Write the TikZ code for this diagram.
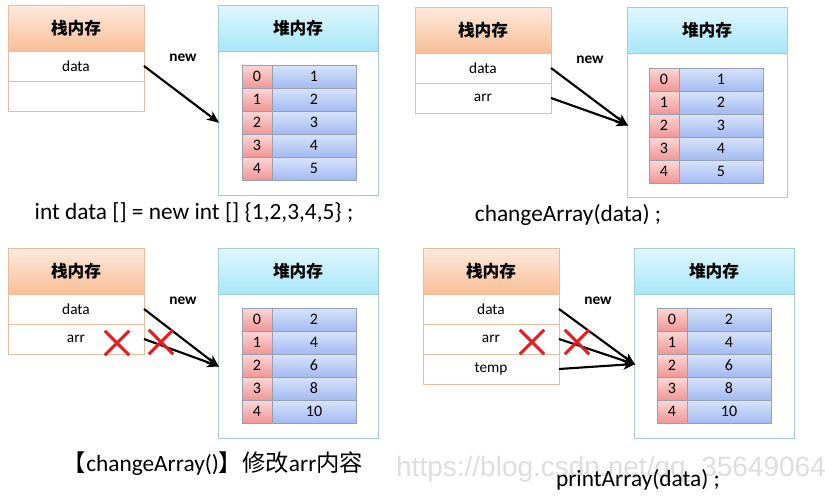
\documentclass[tikz,border=0pt]{standalone}
\usepackage{fontspec}
\setmainfont{Carlito}
\newfontfamily\cjk{Noto Sans CJK SC}
\newfontfamily\wmfont{Liberation Sans}
\usetikzlibrary{positioning,arrows.meta,shapes.misc}

\definecolor{stackline}{RGB}{236,186,156}
\definecolor{stacktop}{RGB}{253,234,222}
\definecolor{stackbot}{RGB}{248,190,150}
\definecolor{heapline}{RGB}{160,204,222}
\definecolor{heaptop}{RGB}{224,247,253}
\definecolor{heapbot}{RGB}{168,230,248}
\definecolor{idxtop}{RGB}{252,216,214}
\definecolor{idxbot}{RGB}{240,150,150}
\definecolor{valtop}{RGB}{216,228,252}
\definecolor{valbot}{RGB}{162,186,240}
\definecolor{cellline}{RGB}{150,160,178}
\definecolor{xred}{RGB}{232,28,28}
\definecolor{wmgray}{RGB}{222,222,222}

\tikzset{
  stackhead/.style={draw=stackline, top color=stacktop, bottom color=stackbot, minimum width=102pt, minimum height=34.5pt, inner sep=0pt, outer sep=0pt, anchor=north west, font=\cjk\bfseries\fontsize{12.5}{14}\selectfont},
  stackrow/.style={draw=stackline, fill=white, minimum width=102pt, minimum height=22.5pt, inner sep=0pt, outer sep=0pt, font=\fontsize{11.5}{13}\selectfont},
  heapbody/.style={draw=heapline, fill=white, minimum width=120pt, minimum height=142.5pt, inner sep=0pt, outer sep=0pt, anchor=north west},
  heaphead/.style={draw=heapline, top color=heaptop, bottom color=heapbot, minimum width=120pt, minimum height=34.5pt, inner sep=0pt, outer sep=0pt, anchor=north west, font=\cjk\bfseries\fontsize{12.5}{14}\selectfont},
  idxcell/.style={draw=cellline, top color=idxtop, bottom color=idxbot, minimum width=22.5pt, minimum height=17.25pt, inner sep=0pt, outer sep=0pt, anchor=north west, font=\fontsize{12}{13}\selectfont},
  valcell/.style={draw=cellline, top color=valtop, bottom color=valbot, minimum width=63pt, minimum height=17.25pt, inner sep=0pt, outer sep=0pt, font=\fontsize{12}{13}\selectfont},
  ptr/.style={-{Stealth[length=9pt,width=7.5pt,inset=2.5pt]}, line width=1.6pt, shorten >=-1pt},
  newlabel/.style={font=\bfseries\fontsize{11.5}{13}\selectfont},
  crossmark/.style={cross out, draw=xred, line width=2.2pt, minimum size=16pt, inner sep=0pt},
  caption/.style={font=\fontsize{17.5}{20}\selectfont, inner sep=0pt}
}

\begin{document}
\begin{tikzpicture}[x=0.75pt,y=0.75pt,yscale=-1,xscale=1]
\fill[white] (0,0) rectangle (825,496);
\useasboundingbox (0,0) rectangle (825,496);

%% Panel 1: int data [] = new int [] {1,2,3,4,5}
% Stack
\node[stackhead] (shA) at (8,5) {栈内存};
\node[stackrow, below=0pt of shA] (dataA) {data};
\node[stackrow, below=0pt of dataA] (emptyA) {};
% Heap
\node[heapbody] (heapA) at (218,5) {};
\node[heaphead] (hhA) at (218,5) {堆内存};
\foreach \i/\v in {0/1,1/2,2/3,3/4,4/5}{
  \node[idxcell] (iA\i) at (242,{65+\i*23}) {\i};
  \node[valcell, right=0pt of iA\i] (vA\i) {\v};
}
% Pointer
\coordinate (tipA) at (218,122);
\node[newlabel] (newA) at (183,58) {new};
\draw[ptr] (dataA.east) -- (tipA);
% Text Node
\node[caption] (capA) at (194,213) {int data [] = new int [] \{1,2,3,4,5\} ;};

%% Panel 2: changeArray(data)
% Stack
\node[stackhead] (shB) at (415,7) {栈内存};
\node[stackrow, below=0pt of shB] (dataB) {data};
\node[stackrow, below=0pt of dataB] (arrB) {arr};
% Heap
\node[heapbody] (heapB) at (627,7) {};
\node[heaphead] (hhB) at (627,7) {堆内存};
\foreach \i/\v in {0/1,1/2,2/3,3/4,4/5}{
  \node[idxcell] (iB\i) at (649,{68+\i*23}) {\i};
  \node[valcell, right=0pt of iB\i] (vB\i) {\v};
}
% Pointers
\coordinate (tipB) at (627,125);
\node[newlabel] (newB) at (590,60) {new};
\draw[ptr] (dataB.east) -- (tipB);
\draw[ptr] (arrB.east) -- (tipB);
% Text Node
\node[caption] (capB) at (568,215) {changeArray(data) ;};

%% Panel 3: inside changeArray()
% Stack
\node[stackhead] (shC) at (8,248) {栈内存};
\node[stackrow, below=0pt of shC] (dataC) {data};
\node[stackrow, below=0pt of dataC] (arrC) {arr};
% Heap
\node[heapbody] (heapC) at (218,248) {};
\node[heaphead] (hhC) at (218,248) {堆内存};
\foreach \i/\v in {0/2,1/4,2/6,3/8,4/10}{
  \node[idxcell] (iC\i) at (242,{308+\i*23}) {\i};
  \node[valcell, right=0pt of iC\i] (vC\i) {\v};
}
% Pointers
\coordinate (tipC) at (218,366);
\node[newlabel] (newC) at (183,301) {new};
\draw[ptr] (dataC.east) -- (tipC);
\draw[ptr] (arrC.east) -- (tipC);
\node[crossmark] (xC1) at (117,343) {};
\node[crossmark] (xC2) at (161,342) {};
% Text Node
\node[caption] (capC) at (213,464) {{\cjk 【}changeArray(){\cjk 】修改}arr{\cjk 内容}};

%% Panel 4: printArray(data)
% Stack
\node[stackhead] (shD) at (423,248) {栈内存};
\node[stackrow, below=0pt of shD] (dataD) {data};
\node[stackrow, below=0pt of dataD] (arrD) {arr};
\node[stackrow, below=0pt of arrD] (tempD) {temp};
% Heap
\node[heapbody] (heapD) at (634,248) {};
\node[heaphead] (hhD) at (634,248) {堆内存};
\foreach \i/\v in {0/2,1/4,2/6,3/8,4/10}{
  \node[idxcell] (iD\i) at (657,{308+\i*23}) {\i};
  \node[valcell, right=0pt of iD\i] (vD\i) {\v};
}
% Pointers
\coordinate (tipD) at (634,364);
\node[newlabel] (newD) at (598,301) {new};
\draw[ptr] (dataD.east) -- (tipD);
\draw[ptr] (arrD.east) -- (tipD);
\draw[ptr] (tempD.east) -- (tipD);
\node[crossmark] (xD1) at (532,342) {};
\node[crossmark] (xD2) at (577,342) {};
% Watermark
\node[font=\wmfont\fontsize{21}{24}\selectfont, text=wmgray, inner sep=0pt] (wm) at (611,469) {https://blog.csdn.net/qq\_35649064};
% Text Node
\node[caption] (capD) at (638,480) {printArray(data) ;};

\end{tikzpicture}
\end{document}
